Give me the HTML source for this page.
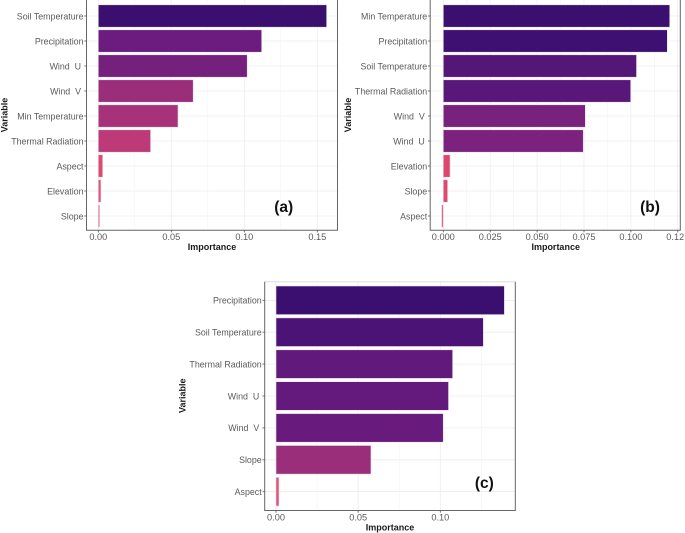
<!DOCTYPE html>
<html lang="en">
<head>
<meta charset="utf-8">
<title>Variable importance charts</title>
<style>
html,body{margin:0;padding:0;background:#fff;width:685px;height:533px;overflow:hidden}
svg{display:block;font-family:"Liberation Sans",sans-serif;filter:blur(0.35px)}
</style>
</head>
<body>
<svg id="figure" width="685" height="533" viewBox="0 0 685 533" xmlns="http://www.w3.org/2000/svg">
<rect width="685" height="533" fill="#ffffff"/>
<defs><clipPath id="page-clip"><rect x="0" y="0" width="683.5" height="533"/></clipPath></defs>
</svg>
<script>
const categoriesA = ["Soil Temperature","Precipitation","Wind  U ","Wind  V ","Min Temperature","Thermal Radiation","Aspect","Elevation","Slope"];
const valuesA = [0.1564,0.1119,0.102,0.065,0.0546,0.0358,0.003,0.0018,0.0009];
const ticksA = [0,0.05,0.10,0.15];
const tickLabelsA = ["0.00","0.05","0.10","0.15"];

const categoriesB = ["Min Temperature","Precipitation","Soil Temperature","Thermal Radiation","Wind  V ","Wind  U ","Elevation","Slope","Aspect"];
const valuesB = [0.1207,0.1194,0.103,0.0999,0.0757,0.0746,0.0036,0.0023,-0.0009];
const ticksB = [0,0.025,0.05,0.075,0.10,0.125];
const tickLabelsB = ["0.000","0.025","0.050","0.075","0.100","0.125"];

const categoriesC = ["Precipitation","Soil Temperature","Thermal Radiation","Wind  U ","Wind  V ","Slope","Aspect"];
const valuesC = [0.139,0.1262,0.1075,0.105,0.1018,0.0578,0.0018];
const ticksC = [0,0.05,0.10];
const tickLabelsC = ["0.00","0.05","0.10"];

const svg = document.getElementById('figure');
const NS = 'http://www.w3.org/2000/svg';

function make(tag, attrs, parent){
  const el = document.createElementNS(NS, tag);
  for (const k in attrs) el.setAttribute(k, attrs[k]);
  parent.appendChild(el);
  return el;
}

/* fill colour depends on value relative to the panel maximum */
const rampT = [0,0.02,0.23,0.42,0.72,1];
const rampR = [232,224,189,154,106,59];
const rampG = [100,71,57,46,28,15];
const rampB = [130,108,119,123,126,112];
function rampColor(v, max){
  const t = Math.max(0, Math.min(1, v / max));
  let i = 0;
  while (i < rampT.length - 2 && t > rampT[i + 1]) i++;
  const f = (t - rampT[i]) / (rampT[i + 1] - rampT[i]);
  const c = a => Math.round(a[i] + (a[i + 1] - a[i]) * f);
  return 'rgb(' + c(rampR) + ',' + c(rampG) + ',' + c(rampB) + ')';
}

function drawPanel(p, categories, values, ticks, tickLabels){
  const g = make('g', {}, svg);
  
  

  const xScale = v => p.x0 + v * p.pxPerUnit;
  const yScale = i => p.firstY + i * p.step;
  const max = Math.max(...values);

  /* horizontal grid */
  categories.forEach((c, i) => {
    const l = make('line', {x1:p.left, x2:p.right, y1:yScale(i), y2:yScale(i), stroke:'#ececec', 'stroke-width':0.8}, g);
    
    
  });
  /* vertical grid: major at ticks, minor between */
  const gap = ticks[1] - ticks[0];
  ticks.forEach(t => {
    const major = make('line', {x1:xScale(t), x2:xScale(t), y1:p.top, y2:p.bottom, stroke:'#ececec', 'stroke-width':0.8}, g);
    
    
    const mx = xScale(t + gap / 2);
    if (mx < p.right) {
      const minor = make('line', {x1:mx, x2:mx, y1:p.top, y2:p.bottom, stroke:'#f3f3f3', 'stroke-width':0.6}, g);
      
      
    }
  });

  /* bars */
  values.forEach((v, i) => {
    const x1 = xScale(Math.min(0, v)), x2 = xScale(Math.max(0, v));
    const bar = make('rect', {
      x:x1, y:yScale(i) - p.barH / 2, width:Math.max(x2 - x1, 0.5), height:p.barH,
      fill:rampColor(v, max), stroke:'#e6dcea', 'stroke-width':0.6
    }, g);
    
    
  });

  /* frame: faint top edge, darker left, right and bottom edges */
  const topEdge = make('line', {x1:p.left, x2:p.right, y1:p.top, y2:p.top, stroke:'#dddddd', 'stroke-width':1}, g);
  
  
  const frame = make('path', {
    d:'M' + p.left + ' ' + p.top + 'V' + p.bottom + 'H' + p.right + 'V' + p.top,
    fill:'none', stroke:'#666666', 'stroke-width':1
  }, g);
  
  

  /* y axis */
  categories.forEach((c, i) => {
    const tick = make('line', {x1:p.left - 2.2, x2:p.left, y1:yScale(i), y2:yScale(i), stroke:'#555', 'stroke-width':0.8}, g);
    
    
    const label = make('text', {x:p.left - 3, y:yScale(i) + 3.3, 'text-anchor':'end', 'font-size':p.yFontSize, fill:'#5a5a5a'}, g);
    
    
    label.setAttribute('xml:space', 'preserve');
    label.style.whiteSpace = 'pre';
    label.textContent = c;
  });

  /* x axis */
  ticks.forEach((t, i) => {
    const tick = make('line', {x1:xScale(t), x2:xScale(t), y1:p.bottom, y2:p.bottom + 2.2, stroke:'#555', 'stroke-width':0.8}, g);
    
    
    const label = make('text', {x:xScale(t), y:p.bottom + 10, 'text-anchor':'middle', 'font-size':p.xFontSize, fill:'#5a5a5a', 'clip-path':'url(#page-clip)'}, g);
    
    
    label.textContent = tickLabels[i];
  });

  const xTitle = make('text', {x:p.xTitleX, y:p.xTitleY, 'text-anchor':'middle', 'font-size':9, 'font-weight':'bold', fill:'#1a1a1a'}, g);
  
  
  xTitle.textContent = 'Importance';

  const yTitle = make('text', {x:0, y:0, 'text-anchor':'middle', 'font-size':9, 'font-weight':'bold', fill:'#1a1a1a', transform:'translate(' + p.yTitleX + ' ' + p.yTitleY + ') rotate(-90)'}, g);
  
  
  yTitle.textContent = 'Variable';

  const tag = make('text', {x:p.tagX, y:p.tagY, 'text-anchor':'middle', 'font-size':15.5, 'font-weight':'bold', fill:'#111'}, g);
  
  
  tag.textContent = '(' + p.id + ')';
}

drawPanel({id:'a', left:86.5, right:337.5, top:-2, bottom:230.2, x0:98.3, pxPerUnit:1460, firstY:16, step:25, barH:22.4,
  yFontSize:8.85, xFontSize:9.2, xTitleX:212, xTitleY:250, yTitleX:7.5, yTitleY:115, tagX:283.7, tagY:212}, categoriesA, valuesA, ticksA, tickLabelsA);

drawPanel({id:'b', left:430.2, right:680.3, top:-2, bottom:230.2, x0:443.3, pxPerUnit:1876, firstY:16, step:25, barH:22.4,
  yFontSize:8.85, xFontSize:9.2, xTitleX:555.7, xTitleY:250, yTitleX:351, yTitleY:115, tagX:650, tagY:212}, categoriesB, valuesB, ticksB, tickLabelsB);

drawPanel({id:'c', left:264.7, right:515.3, top:281.7, bottom:510.5, x0:276, pxPerUnit:1643, firstY:300.3, step:31.9, barH:28.6,
  yFontSize:8.85, xFontSize:9.2, xTitleX:390, xTitleY:530.3, yTitleX:185.3, yTitleY:395.7, tagX:484.3, tagY:488}, categoriesC, valuesC, ticksC, tickLabelsC);
</script>
</body>
</html>
